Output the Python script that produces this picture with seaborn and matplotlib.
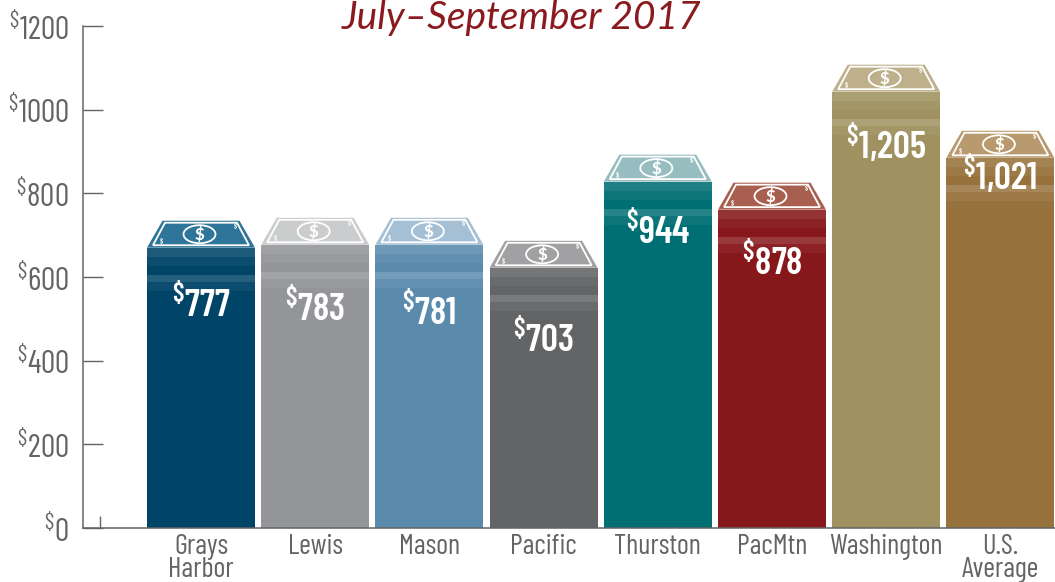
import numpy as np
import pandas as pd
import seaborn as sns
import matplotlib.pyplot as plt
from matplotlib.patches import Polygon, Ellipse

# labels printed on the stacks
regions = ["Grays\nHarbor", "Lewis", "Mason", "Pacific", "Thurston", "PacMtn", "Washington", "U.S.\nAverage"]
wages = [777, 783, 781, 703, 944, 878, 1205, 1021]
# where the front of each stack ends, read against the left axis
stack_tops = [670, 677, 677, 622, 828, 761, 1043, 885]
y_ticks = [0, 200, 400, 600, 800, 1000, 1200]

base_colors = ["#004468", "#939598", "#5a8bad", "#636466", "#006f74", "#86171a", "#9f9260", "#98723c"]
bill_colors = ["#2f7599", "#cbcccd", "#a5bfd4", "#a1a1a3", "#97bdc1", "#a95f50", "#bdb08a", "#b89a6e"]
label_drop = [56, 63, 67, 71, 49, 52, 52, 17]  # px below stack top

W, H = 1055, 582
LEFT, RIGHT, TOP, BOTTOM = 83, 1055, 26, 528
GREY = "#636466"
FONTS = ["Barlow Condensed", "Roboto Condensed", "DejaVu Sans"]

sns.set_theme(style="white")
plt.rcParams["font.family"] = FONTS
plt.rcParams["mathtext.default"] = "regular"

fig = plt.figure(figsize=(W / 100, H / 100), dpi=100)
ax = fig.add_axes([LEFT / W, 1 - BOTTOM / H, (RIGHT - LEFT) / W, (BOTTOM - TOP) / H])

df = pd.DataFrame({"region": regions, "top": stack_tops})
sns.barplot(data=df, x="region", y="top", hue="region", palette=base_colors, saturation=1,
            width=0.946, legend=False, ax=ax, zorder=2, linewidth=0)

# category centres sit 114.2 px apart, first one at px 201
pitch = 114.2
ax.set_xlim((LEFT - 201) / pitch, (RIGHT - 201) / pitch)
ax.set_ylim(0, 1200)
ax.set_xlabel("")
ax.set_ylabel("")
px_x = 1 / pitch
px_y = 1200 / (BOTTOM - TOP)
bar_w = 0.946

# stripes at the top of each stack
bands = [(0, 9, 0.12), (9, 18, 0.05), (18, 27, 0), (27, 34, 0.15), (34, 43, 0.05)]
for i, top in enumerate(stack_tops):
    for a, b, alpha in bands:
        ax.bar(i, (b - a) * px_y, bottom=top - b * px_y, width=bar_w, color="white",
               alpha=alpha, linewidth=0, zorder=3)

    # the bill lying on top
    hw = bar_w / 2
    ax.add_patch(Polygon([(i - hw, top), (i + hw, top), (i + 38.5 * px_x, top + 27 * px_y), (i - 38.5 * px_x, top + 27 * px_y)],
                         closed=True, facecolor=bill_colors[i], edgecolor="none", zorder=3))
    ax.add_patch(Polygon([(i - 48 * px_x, top + 2.5 * px_y), (i + 48 * px_x, top + 2.5 * px_y),
                          (i + 36 * px_x, top + 25 * px_y), (i - 36 * px_x, top + 25 * px_y)],
                         closed=True, facecolor="none", edgecolor="white", linewidth=1.3, zorder=4))
    ax.add_patch(Ellipse((i - 1.5 * px_x, top + 13.5 * px_y), 32 * px_x, 18 * px_y, facecolor="none",
                         edgecolor="white", linewidth=1.3, zorder=4))
    ax.text(i - 1.5 * px_x, top + 13 * px_y, "$", color="white", fontsize=12, fontweight="black",
            ha="center", va="center", family="Lato", zorder=5, parse_math=False)
    ax.text(i - 40 * px_x, top + 6 * px_y, "$", color="white", fontsize=5, fontweight="bold", ha="center",
            va="center", zorder=5, parse_math=False)
    ax.text(i + 34 * px_x, top + 21 * px_y, "$", color="white", fontsize=5, fontweight="bold", ha="center",
            va="center", zorder=5, parse_math=False)

    ax.text(i, top - label_drop[i] * px_y, f"$^{{\\$}}${wages[i]:,}", color="white", fontsize=27,
            fontweight="semibold", ha="center", va="center", zorder=5)

for side in ["top", "right"]:
    ax.spines[side].set_visible(False)
for side in ["left", "bottom"]:
    ax.spines[side].set_color(GREY)
    ax.spines[side].set_linewidth(1.1)
ax.set_yticks(y_ticks)
ax.set_yticklabels([f"$^{{\\$}}${v}" for v in y_ticks], fontweight="normal")
ax.tick_params(axis="y", direction="in", length=14.4, width=1.0, color=GREY, labelcolor=GREY,
               labelsize=23, pad=10, left=True)
ax.set_xticks(range(len(regions)))
ax.set_xticklabels(regions, linespacing=0.88, fontweight="normal")
ax.tick_params(axis="x", length=0, labelcolor=GREY, labelsize=20.5, pad=4)
ax.set_xticks([(100 - 201) / pitch], minor=True)
ax.tick_params(axis="x", which="minor", direction="in", length=8.6, width=1.0, color=GREY, bottom=True)

fig.text(521 / W, 1 - 29 / H, "July–September 2017", color="#8a1a1e", fontsize=28, family="Lato",
         style="italic", weight="normal", ha="center", va="baseline")

fig.savefig("out.png", dpi=100)
